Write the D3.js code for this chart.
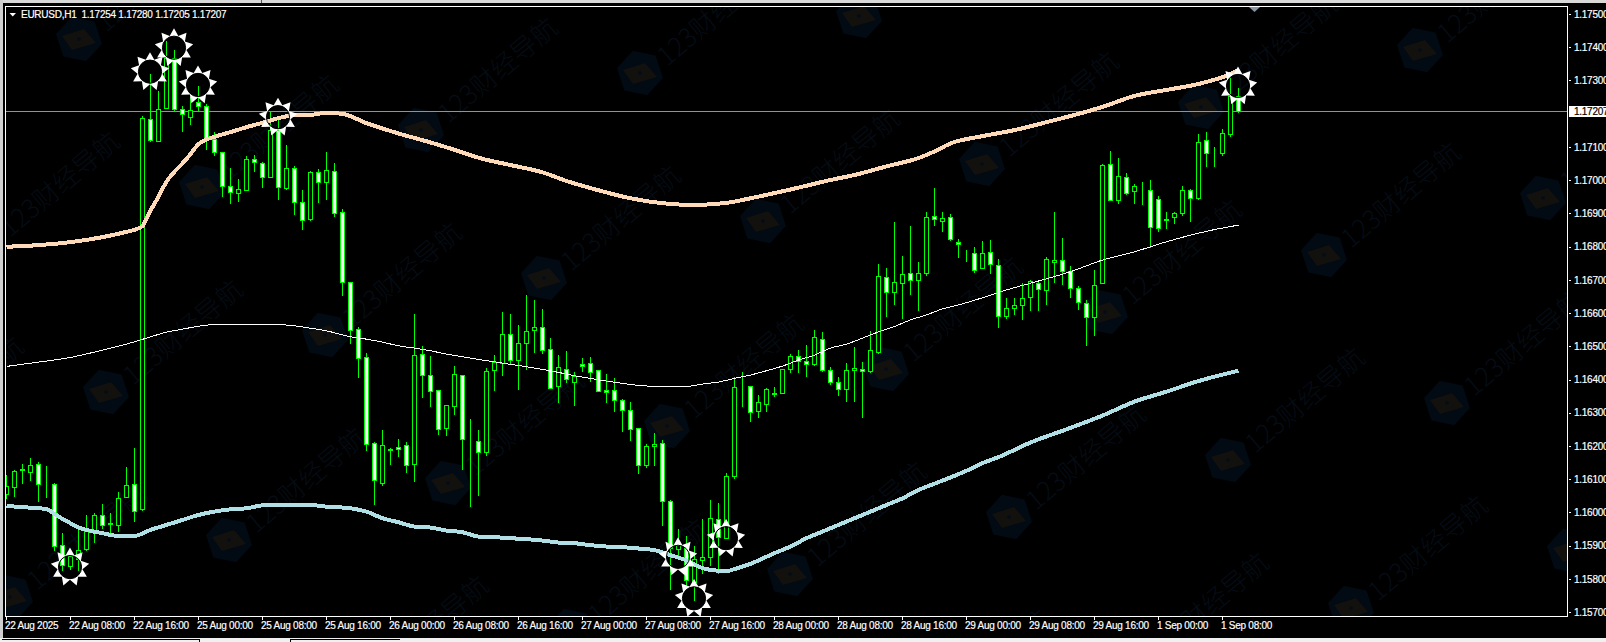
<!DOCTYPE html>
<html>
<head>
<meta charset="utf-8">
<title>EURUSD,H1</title>
<script src="https://cdn.jsdelivr.net/npm/d3@7"></script>
<style>
html,body{margin:0;padding:0;background:#fff;overflow:hidden}
svg{display:block}
.lbl{font-family:"Liberation Sans",Arial,sans-serif;font-size:10px;letter-spacing:-0.26px;stroke-width:0.18px}
</style>
</head>
<body>
<div id="chart"></div>
<script>
const symbolLabel = "EURUSD,H1";
const quoteLabel = "1.17254 1.17280 1.17205 1.17207";
const lastPrice = 1.17207;
const watermarkText = "123财经导航";

const opens = [1.16055,1.16077,1.16127,1.16121,1.16146,1.16083,1.16086,1.15902,1.15838,1.15859,1.15890,1.15947,1.15993,1.15966,1.15963,1.16047,1.16086,1.16010,1.17185,1.17118,1.17217,1.17369,1.17214,1.17189,1.17236,1.17224,1.17125,1.17085,1.16983,1.16962,1.16970,1.17064,1.17052,1.17009,1.17152,1.16977,1.17037,1.16935,1.16882,1.17025,1.16995,1.17028,1.16905,1.16694,1.16552,1.16468,1.16210,1.16088,1.16189,1.16196,1.16204,1.16145,1.16478,1.16413,1.16369,1.16255,1.16320,1.16413,1.16217,1.16216,1.16183,1.16429,1.16451,1.16538,1.16459,1.16511,1.16548,1.16559,1.16493,1.16381,1.16432,1.16393,1.16447,1.16450,1.16428,1.16368,1.16369,1.16339,1.16309,1.16255,1.16144,1.16199,1.16210,1.16035,1.15891,1.15895,1.15790,1.15856,1.15866,1.15980,1.15923,1.16109,1.16380,1.16380,1.16306,1.16327,1.16357,1.16359,1.16431,1.16471,1.16455,1.16446,1.16522,1.16429,1.16392,1.16372,1.16429,1.16432,1.16426,1.16484,1.16708,1.16664,1.16691,1.16720,1.16699,1.16720,1.16893,1.16878,1.16890,1.16815,1.16775,1.16780,1.16736,1.16783,1.16745,1.16591,1.16616,1.16625,1.16648,1.16691,1.16670,1.16754,1.16759,1.16726,1.16675,1.16630,1.16589,1.16691,1.17048,1.16941,1.17009,1.16967,1.16978,1.16971,1.16944,1.16881,1.16890,1.16901,1.16971,1.16946,1.17121,1.17083,1.17081,1.17138,1.17254];
const highs = [1.16117,1.16132,1.16150,1.16168,1.16156,1.16144,1.16093,1.15942,1.15880,1.15952,1.15994,1.16001,1.16027,1.16001,1.16065,1.16141,1.16196,1.17197,1.17323,1.17270,1.17423,1.17395,1.17227,1.17252,1.17285,1.17233,1.17149,1.17086,1.17041,1.17005,1.17077,1.17080,1.17059,1.17208,1.17188,1.17110,1.17047,1.16972,1.17032,1.17038,1.17089,1.17056,1.16917,1.16698,1.16562,1.16484,1.16216,1.16252,1.16196,1.16225,1.16216,1.16601,1.16503,1.16475,1.16370,1.16325,1.16445,1.16415,1.16285,1.16252,1.16438,1.16478,1.16607,1.16601,1.16568,1.16656,1.16641,1.16614,1.16529,1.16478,1.16490,1.16426,1.16468,1.16472,1.16430,1.16420,1.16408,1.16345,1.16334,1.16258,1.16210,1.16243,1.16222,1.16039,1.15952,1.15931,1.15901,1.15984,1.16039,1.16032,1.16122,1.16410,1.16427,1.16382,1.16355,1.16378,1.16381,1.16436,1.16481,1.16493,1.16508,1.16551,1.16545,1.16442,1.16412,1.16453,1.16500,1.16457,1.16548,1.16751,1.16739,1.16876,1.16776,1.16864,1.16757,1.16906,1.16978,1.16906,1.16902,1.16827,1.16793,1.16803,1.16821,1.16824,1.16766,1.16649,1.16649,1.16692,1.16704,1.16702,1.16773,1.16906,1.16830,1.16746,1.16683,1.16643,1.16733,1.17053,1.17092,1.17071,1.17026,1.16992,1.16996,1.17002,1.16954,1.16906,1.16908,1.16984,1.16977,1.17143,1.17149,1.17104,1.17158,1.17313,1.17280];
const lows = [1.16042,1.16049,1.16089,1.16099,1.16034,1.16046,1.15887,1.15826,1.15831,1.15828,1.15887,1.15911,1.15952,1.15939,1.15943,1.16046,1.15974,1.16007,1.17119,1.17117,1.17216,1.17210,1.17147,1.17170,1.17209,1.17095,1.17075,1.16952,1.16931,1.16937,1.16969,1.17029,1.16979,1.17008,1.16942,1.16972,1.16897,1.16852,1.16879,1.16934,1.16942,1.16892,1.16654,1.16509,1.16407,1.16187,1.16025,1.16082,1.16147,1.16171,1.16121,1.16096,1.16346,1.16320,1.16235,1.16233,1.16295,1.16132,1.16019,1.16054,1.16172,1.16368,1.16413,1.16448,1.16371,1.16433,1.16484,1.16481,1.16374,1.16332,1.16392,1.16323,1.16425,1.16397,1.16365,1.16332,1.16305,1.16245,1.16217,1.16118,1.16136,1.16144,1.15962,1.15769,1.15865,1.15783,1.15738,1.15819,1.15843,1.15819,1.15922,1.16103,1.16320,1.16275,1.16287,1.16305,1.16350,1.16358,1.16422,1.16422,1.16412,1.16444,1.16425,1.16386,1.16353,1.16335,1.16335,1.16287,1.16423,1.16479,1.16591,1.16626,1.16584,1.16656,1.16608,1.16714,1.16865,1.16846,1.16819,1.16768,1.16758,1.16724,1.16735,1.16721,1.16557,1.16584,1.16596,1.16581,1.16608,1.16608,1.16626,1.16692,1.16686,1.16648,1.16611,1.16505,1.16533,1.16690,1.16940,1.16931,1.16958,1.16931,1.16927,1.16800,1.16848,1.16855,1.16870,1.16894,1.16876,1.16944,1.17042,1.17042,1.17075,1.17132,1.17205];
const closes = [1.16079,1.16125,1.16130,1.16144,1.16086,1.16084,1.15900,1.15843,1.15869,1.15888,1.15947,1.15993,1.15963,1.15967,1.16044,1.16083,1.16005,1.17188,1.17121,1.17215,1.17369,1.17215,1.17198,1.17212,1.17224,1.17122,1.17084,1.16982,1.16965,1.16974,1.17064,1.17055,1.17010,1.17152,1.16980,1.17037,1.16935,1.16881,1.17025,1.16995,1.17031,1.16902,1.16694,1.16550,1.16465,1.16205,1.16097,1.16204,1.16190,1.16192,1.16144,1.16475,1.16414,1.16366,1.16251,1.16324,1.16417,1.16222,1.16218,1.16183,1.16426,1.16453,1.16538,1.16459,1.16511,1.16547,1.16559,1.16488,1.16375,1.16438,1.16402,1.16412,1.16441,1.16423,1.16366,1.16362,1.16339,1.16309,1.16251,1.16144,1.16201,1.16207,1.16035,1.15892,1.15903,1.15798,1.15861,1.15866,1.15984,1.15927,1.16110,1.16378,1.16381,1.16303,1.16332,1.16372,1.16358,1.16432,1.16472,1.16457,1.16447,1.16529,1.16429,1.16393,1.16372,1.16429,1.16435,1.16426,1.16490,1.16712,1.16664,1.16693,1.16718,1.16700,1.16721,1.16890,1.16884,1.16887,1.16824,1.16808,1.16776,1.16730,1.16780,1.16748,1.16592,1.16615,1.16624,1.16646,1.16696,1.16672,1.16763,1.16760,1.16726,1.16676,1.16634,1.16589,1.16684,1.17046,1.16941,1.17012,1.16962,1.16983,1.16979,1.16860,1.16857,1.16882,1.16902,1.16971,1.16947,1.17115,1.17082,1.17082,1.17142,1.17254,1.17207];

const upperBars = [0,4,8,12,15,16,17,18,19,20,21,22,23,24,25,26,28,30,32,34,36,38,40,42,45,49,53,57,59,63,67,70,74,78,82,86,90,93,99,103,106,110,114,116,118,122,126,130,134,137,141,145,149,153,154];
const upperBand = [1.16801,1.16806,1.16815,1.16830,1.16846,1.16852,1.16864,1.16910,1.16952,1.16997,1.17027,1.17052,1.17080,1.17110,1.17124,1.17132,1.17146,1.17161,1.17174,1.17188,1.17197,1.17198,1.17204,1.17201,1.17173,1.17142,1.17115,1.17085,1.17069,1.17047,1.17025,1.16999,1.16971,1.16947,1.16932,1.16927,1.16933,1.16947,1.16979,1.17002,1.17017,1.17043,1.17068,1.17088,1.17112,1.17134,1.17152,1.17176,1.17201,1.17222,1.17255,1.17273,1.17291,1.17321,1.17333];
const middleBars = [0,4,8,12,16,18,20,22,24,26,30,34,36,38,40,43,45,47,49,51,53,55,57,59,61,63,65,67,69,71,73,75,77,79,81,83,85,87,89,91,93,95,97,99,101,103,105,107,109,111,113,115,117,119,121,125,129,133,137,141,145,149,153,154];
const middleBand = [1.16441,1.16454,1.16468,1.16490,1.16515,1.16530,1.16544,1.16553,1.16562,1.16567,1.16568,1.16567,1.16563,1.16556,1.16548,1.16530,1.16523,1.16514,1.16503,1.16496,1.16488,1.16478,1.16470,1.16462,1.16455,1.16447,1.16440,1.16432,1.16423,1.16413,1.16405,1.16397,1.16390,1.16384,1.16381,1.16381,1.16381,1.16388,1.16394,1.16405,1.16415,1.16428,1.16442,1.16460,1.16475,1.16496,1.16508,1.16526,1.16545,1.16561,1.16581,1.16596,1.16614,1.16626,1.16640,1.16671,1.16698,1.16726,1.16761,1.16786,1.16816,1.16842,1.16862,1.16866];
const lowerBars = [0,4,5,6,7,8,9,10,12,14,16,18,20,22,24,26,28,30,32,34,36,38,40,43,45,47,49,51,53,55,57,59,61,63,65,67,69,71,73,75,77,79,81,83,85,87,89,90,91,93,96,98,100,102,104,106,108,110,112,114,116,118,120,122,124,128,133,137,141,145,149,154];
const lowerBand = [1.16021,1.16014,1.16012,1.15997,1.15982,1.15969,1.15956,1.15949,1.15939,1.15931,1.15931,1.15949,1.15964,1.15979,1.15994,1.16004,1.16011,1.16014,1.16023,1.16025,1.16025,1.16024,1.16019,1.16014,1.16004,1.15984,1.15972,1.15959,1.15956,1.15947,1.15942,1.15929,1.15927,1.15924,1.15921,1.15917,1.15911,1.15909,1.15903,1.15899,1.15897,1.15893,1.15888,1.15873,1.15857,1.15834,1.15826,1.15825,1.15831,1.15847,1.15879,1.15899,1.15924,1.15944,1.15964,1.15984,1.16004,1.16024,1.16044,1.16069,1.16088,1.16107,1.16127,1.16150,1.16168,1.16212,1.16256,1.16293,1.16335,1.16365,1.16397,1.16428];

const signalBars = [8,18,21,24,34,84,86,90,154];
const signalPrices = [1.15837,1.17328,1.17400,1.17288,1.17191,1.15868,1.15743,1.15924,1.17285];

const timeTickBars = [0,8,16,24,32,40,48,56,64,72,80,88,96,104,112,120,128,136,144,152];
const timeTickLabels = ["22 Aug 2025","22 Aug 08:00","22 Aug 16:00","25 Aug 00:00","25 Aug 08:00","25 Aug 16:00","26 Aug 00:00","26 Aug 08:00","26 Aug 16:00","27 Aug 00:00","27 Aug 08:00","27 Aug 16:00","28 Aug 00:00","28 Aug 08:00","28 Aug 16:00","29 Aug 00:00","29 Aug 08:00","29 Aug 16:00","1 Sep 00:00","1 Sep 08:00"];
const priceTicks = [1.175,1.174,1.173,1.172,1.171,1.170,1.169,1.168,1.167,1.166,1.165,1.164,1.163,1.162,1.161,1.160,1.159,1.158,1.157];

const W = 1606, H = 642;
const plot = {l:5.5, t:6.5, r:1567.5, b:616.5};
const green = "#00ff00", peach = "#ffdab9", powder = "#b0e0e6", slate = "#8794a3";

const svg = d3.select("#chart").append("svg").attr("width",W).attr("height",H);
const x = d3.scaleLinear().domain([0,154]).range([6,1238]);
const y = d3.scaleLinear().domain([1.175,1.157]).range([14.5,612.64]);
const cx = i => x(i) + 0.5;
const py = p => Math.floor(y(p)) + 0.5;

// window chrome
svg.append("rect").attr("width",W).attr("height",H).attr("fill","#f0f0f0");
svg.append("rect").attr("x",0).attr("y",0).attr("width",W).attr("height",3).attr("fill","#d8d8d8");
svg.append("rect").attr("x",0).attr("y",0).attr("width",3).attr("height",638).attr("fill","#cfcfcf");
svg.append("rect").attr("x",3).attr("y",3).attr("width",W-3).attr("height",635).attr("fill","#000");
svg.append("line").attr("x1",261.5).attr("x2",261.5).attr("y1",0).attr("y2",3).attr("stroke","#555");
[[2,199],[290,400]].forEach(s=>svg.append("line").attr("x1",s[0]).attr("x2",s[1]).attr("y1",639.5).attr("y2",639.5).attr("stroke","#000"));
[199.5,290.5].forEach(v=>svg.append("line").attr("x1",v).attr("x2",v).attr("y1",639).attr("y2",642).attr("stroke","#000"));

svg.append("clipPath").attr("id","plotClip").append("rect")
  .attr("x",plot.l+0.5).attr("y",plot.t+0.5).attr("width",plot.r-plot.l-1).attr("height",plot.b-plot.t-1);
const g = svg.append("g").attr("clip-path","url(#plotClip)");

// watermark: a repeating logo and label
const wm = g.append("g");
const hexPts = d3.range(6).map(k=>{const a=(k*60+12)*Math.PI/180;return [23.5*Math.cos(a),23.5*Math.sin(a)];});
for(let m=-5;m<=8;m++){for(let n=-4;n<=9;n++){
  const hx=79+123*m+219*n, hy=39+148*m-57*n;
  if(hx<-170||hx>1640||hy<-40||hy>730) continue;
  const c=wm.append("g").attr("transform",`translate(${hx},${hy})`);
  c.append("path").attr("d",d3.line()(hexPts)+"Z").attr("fill","#020a14");
  c.append("path").attr("d","M-17,-3 L5,-10 L17,4 L-7,11 Z").attr("fill","#12110d");
  c.append("circle").attr("r",1.8).attr("fill","#040c1a");
  c.append("text").attr("transform","translate(27,-6) rotate(-40)")
    .style("font-family","'Noto Sans CJK SC','Noto Sans',sans-serif").style("font-size","26px").style("font-weight","300")
    .attr("fill","#050c15").text(watermarkText);
}}

// current price line
g.append("line").attr("x1",plot.l).attr("x2",plot.r).attr("y1",py(lastPrice)).attr("y2",py(lastPrice))
  .attr("stroke",slate).attr("shape-rendering","crispEdges");

// candles
const barIndex = d3.range(opens.length);
const candles = g.append("g").attr("shape-rendering","crispEdges");
candles.selectAll("line").data(barIndex).join("line")
  .attr("x1",cx).attr("x2",cx)
  .attr("y1",i=>py(highs[i])).attr("y2",i=>py(lows[i])+0.5)
  .attr("stroke",green);
candles.selectAll("rect").data(barIndex).join("rect")
  .attr("x",i=>cx(i)-2).attr("width",4)
  .attr("y",i=>py(Math.max(opens[i],closes[i])))
  .attr("height",i=>py(Math.min(opens[i],closes[i]))-py(Math.max(opens[i],closes[i])))
  .attr("fill",i=>closes[i]<opens[i]?"#fff":"#000")
  .attr("stroke",green);

// bands
function band(bars,vals,color,w){
  g.append("path").datum(bars)
    .attr("fill","none").attr("stroke",color).attr("stroke-width",w)
    .attr("shape-rendering","crispEdges").attr("stroke-linejoin","round")
    .attr("d",d3.line().x(d=>cx(d)).y((d,k)=>y(vals[k])).curve(d3.curveMonotoneX)(bars));
}
band(upperBars,upperBand,peach,4);
band(lowerBars,lowerBand,powder,4);
band(middleBars,middleBand,"#ffffff",1);

// signal glyphs
const R=19.5, r0=12.6, hole=11.6, nP=9;
let star="";
for(let k=0;k<nP*2;k++){
  const a=-Math.PI/2+k*Math.PI/nP, rr=k%2?r0:R;
  star+=(k?"L":"M")+(rr*Math.cos(a)).toFixed(2)+","+(rr*Math.sin(a)).toFixed(2);
}
star+="Z M"+hole+",0 A"+hole+","+hole+" 0 1,0 "+(-hole)+",0 A"+hole+","+hole+" 0 1,0 "+hole+",0Z";
const sig = g.append("g");
signalBars.forEach((b,k)=>{
  const s=sig.append("g").attr("transform",`translate(${cx(b)-0.5},${y(signalPrices[k])})`);
  s.append("path").attr("d",star).attr("fill","#fff").attr("fill-rule","evenodd");
  s.append("circle").attr("r",hole).attr("fill","none").attr("stroke","#000").attr("stroke-width",1);
});

// frame
svg.append("rect").attr("x",plot.l).attr("y",plot.t).attr("width",plot.r-plot.l).attr("height",plot.b-plot.t)
  .attr("fill","none").attr("stroke","#fff").attr("shape-rendering","crispEdges");

// shift marker
const shiftX = x(156);
svg.append("path").attr("d",`M${shiftX-5},7 L${shiftX+6},7 L${shiftX+0.5},12 Z`).attr("fill",slate);

// axes
const axisBottom = d3.axisBottom(x).tickValues(timeTickBars)
  .tickFormat((d,k)=>timeTickLabels[k]).tickSize(3).tickSizeOuter(0);
const ax = svg.append("g").attr("transform",`translate(0,${plot.b})`).call(axisBottom);
ax.select(".domain").remove();
ax.selectAll("line").attr("stroke","#fff").attr("shape-rendering","crispEdges");
ax.selectAll("text").attr("class","lbl").attr("fill","#fff").attr("stroke","#fff").attr("text-anchor","start").attr("x",-1.5).attr("y",5.5).attr("dy","0.71em");
ax.attr("font-family",null).attr("font-size",null);

const axisRight = d3.axisRight(y).tickValues(priceTicks).tickFormat(d3.format(".5f")).tickSize(3).tickSizeOuter(0).offset(0);
const ay = svg.append("g").attr("transform",`translate(${plot.r},0)`).call(axisRight);
ay.select(".domain").remove();
ay.selectAll("line").attr("stroke","#fff").attr("shape-rendering","crispEdges").attr("x1",1).attr("x2",3);
ay.selectAll("text").attr("class","lbl").attr("fill","#fff").attr("stroke","#fff").attr("x",6.5);
ay.attr("font-family",null).attr("font-size",null);

// current price tag
svg.append("rect").attr("x",1569).attr("y",py(lastPrice)-5.5).attr("width",37).attr("height",11).attr("fill","#fff");
svg.append("text").attr("class","lbl").attr("x",1574).attr("y",py(lastPrice)+3.4).attr("fill","#000").attr("stroke","#000").text(d3.format(".5f")(lastPrice));

// header
svg.append("path").attr("d","M9.5,13 L16,13 L12.75,16.5 Z").attr("fill","#fff");
svg.append("text").attr("class","lbl").attr("x",21).attr("y",17.8).attr("fill","#fff").attr("stroke","#fff").text(symbolLabel);
svg.append("text").attr("class","lbl").attr("x",81.5).attr("y",17.8).attr("fill","#fff").attr("stroke","#fff").text(quoteLabel);
</script>
</body>
</html>
